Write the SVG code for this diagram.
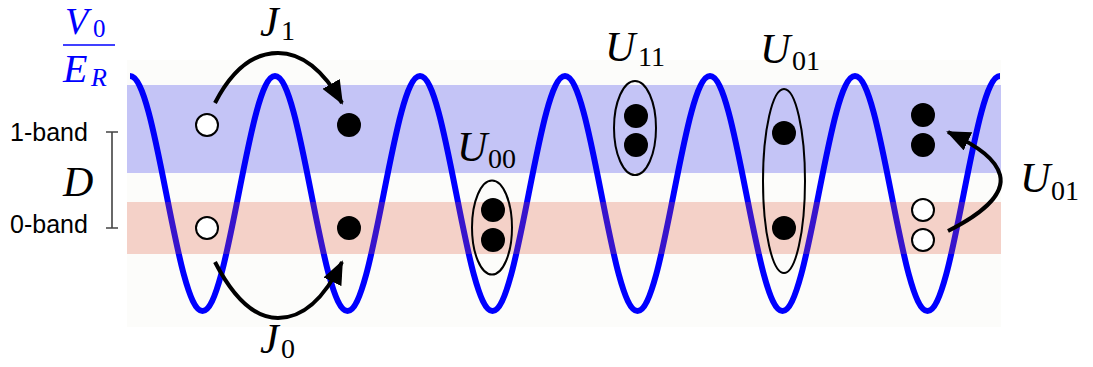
<svg xmlns="http://www.w3.org/2000/svg" width="1093" height="367" viewBox="0 0 1093 367">
<style>
.lbl{font-family:"Liberation Serif",serif;fill:#000}
.it{font-style:italic;font-size:42px}
.sub{font-size:28px}
.band{font-family:"Liberation Sans",sans-serif;font-size:25px;fill:#000}
.open{fill:#fff;stroke:#000;stroke-width:2}
.full{fill:#000}
.ell{fill:none;stroke:#000;stroke-width:2}
.arr{fill:none;stroke:#000;stroke-width:4}
</style>
<defs>
<marker id="ah" markerUnits="userSpaceOnUse" markerWidth="24" markerHeight="20" viewBox="0 0 24 20" refX="22" refY="10" orient="auto">
<path d="M0,0 L24,10 L0,20 z" fill="#000"/>
</marker>
</defs>
<rect x="127" y="60" width="874" height="267" fill="#fcfcfa"/>
<g id="wave">
<path fill="none" stroke="#0000ff" stroke-width="6" d="M130,76
c13.12,0 24.43,57.31 36.25,117.5 c11.82,60.19 23.13,117.5 36.25,117.5 c13.12,0 24.43,-57.31 36.25,-117.5 c11.82,-60.19 23.13,-117.5 36.25,-117.5
c13.12,0 24.43,57.31 36.25,117.5 c11.82,60.19 23.13,117.5 36.25,117.5 c13.12,0 24.43,-57.31 36.25,-117.5 c11.82,-60.19 23.13,-117.5 36.25,-117.5
c13.12,0 24.43,57.31 36.25,117.5 c11.82,60.19 23.13,117.5 36.25,117.5 c13.12,0 24.43,-57.31 36.25,-117.5 c11.82,-60.19 23.13,-117.5 36.25,-117.5
c13.12,0 24.43,57.31 36.25,117.5 c11.82,60.19 23.13,117.5 36.25,117.5 c13.12,0 24.43,-57.31 36.25,-117.5 c11.82,-60.19 23.13,-117.5 36.25,-117.5
c13.12,0 24.43,57.31 36.25,117.5 c11.82,60.19 23.13,117.5 36.25,117.5 c13.12,0 24.43,-57.31 36.25,-117.5 c11.82,-60.19 23.13,-117.5 36.25,-117.5
c13.12,0 24.43,57.31 36.25,117.5 c11.82,60.19 23.13,117.5 36.25,117.5 c13.12,0 24.43,-57.31 36.25,-117.5 c11.82,-60.19 23.13,-117.5 36.25,-117.5"/>
</g>
<g id="bands">
<rect x="127" y="85" width="874" height="88" fill="#0000e6" fill-opacity="0.22"/>
<rect x="127" y="202" width="874" height="52" fill="#dc5032" fill-opacity="0.25"/>
</g>
<g id="axis-label">
<text class="lbl" style="fill:#0000ff"><tspan x="65" y="34" style="font-size:38px;font-style:italic">V</tspan><tspan x="93" y="37" style="font-size:25px">0</tspan></text>
<line x1="63" y1="45" x2="115" y2="45" stroke="#0000ff" stroke-width="1.6"/>
<text class="lbl" style="fill:#0000ff"><tspan x="63" y="82" style="font-size:40px;font-style:italic">E</tspan><tspan x="91" y="86" style="font-size:26px;font-style:italic">R</tspan></text>
</g>
<g id="levels">
<text class="band" x="10" y="141">1-band</text>
<text class="band" x="10" y="233">0-band</text>
<path d="M106,132 H118 M112,132 V228 M106,228 H118" fill="none" stroke="#444" stroke-width="1.6"/>
<text class="lbl it" x="63" y="196">D</text>
</g>
<g id="site-J-start">
<circle class="open" cx="207" cy="125" r="11"/>
<circle class="open" cx="207" cy="228" r="11"/>
</g>
<g id="site-J-end">
<circle class="full" cx="349" cy="125" r="12"/>
<circle class="full" cx="349" cy="228" r="12"/>
</g>
<g id="site-U00">
<ellipse class="ell" cx="492" cy="227.5" rx="20" ry="47"/>
<circle class="full" cx="493" cy="210" r="12"/>
<circle class="full" cx="493" cy="240" r="12"/>
<text class="lbl"><tspan class="it" x="457" y="161">U</tspan><tspan class="sub" x="488" y="168">00</tspan></text>
</g>
<g id="site-U11">
<ellipse class="ell" cx="635" cy="128" rx="21" ry="47"/>
<circle class="full" cx="636" cy="116" r="12"/>
<circle class="full" cx="636" cy="145" r="12"/>
<text class="lbl"><tspan class="it" x="605" y="61">U</tspan><tspan class="sub" x="638" y="66">11</tspan></text>
</g>
<g id="site-U01">
<ellipse class="ell" cx="784" cy="181" rx="21" ry="92"/>
<circle class="full" cx="784" cy="133" r="12"/>
<circle class="full" cx="784" cy="228" r="12"/>
<text class="lbl"><tspan class="it" x="760" y="63">U</tspan><tspan class="sub" x="792" y="70">01</tspan></text>
</g>
<g id="site-transfer">
<circle class="full" cx="923" cy="115" r="12"/>
<circle class="full" cx="923" cy="145" r="12"/>
<circle class="open" cx="923" cy="210" r="11"/>
<circle class="open" cx="923" cy="240" r="11"/>
<text class="lbl"><tspan class="it" x="1020" y="192">U</tspan><tspan class="sub" x="1051" y="200">01</tspan></text>
</g>
<g id="connectors">
<path class="arr" marker-end="url(#ah)" d="M215,103 C232,70 252,53 278,53 C305,53 326,75 342,103"/>
<path class="arr" marker-end="url(#ah)" d="M215,262 C232,295 252,318 278,318 C305,318 326,295 342,262"/>
<path class="arr" marker-end="url(#ah)" d="M948,231 C980,215 1005,195 1000,175 C996,160 980,147 948,132"/>
<text class="lbl"><tspan class="it" x="260" y="36">J</tspan><tspan class="sub" x="281" y="40">1</tspan></text>
<text class="lbl"><tspan class="it" x="260" y="353">J</tspan><tspan class="sub" x="281" y="358">0</tspan></text>
</g>
</svg>
